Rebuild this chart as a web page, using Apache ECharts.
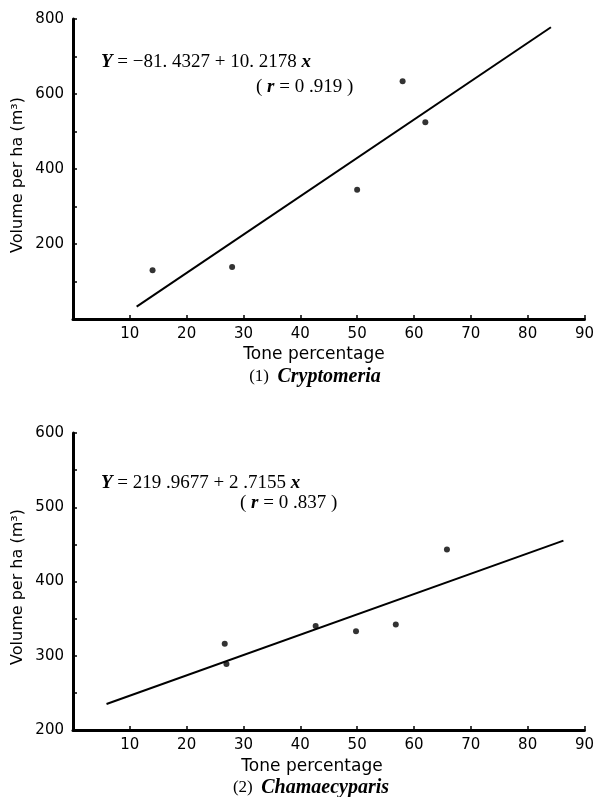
<!DOCTYPE html>
<html>
<head>
<meta charset="utf-8">
<script src="https://cdn.jsdelivr.net/npm/echarts@6/dist/echarts.min.js"></script>
<style>
  html, body { margin: 0; padding: 0; background: #fff; }
  #main { width: 597px; height: 797px; }
</style>
</head>
<body>
<div id="main"></div>
<script>
// (1) Cryptomeria: tone percentage vs volume per ha
const toneCrypto = [14, 28, 50, 58, 62]
const volCrypto = [130, 139, 345, 634, 525]
// fitted line end points
const fitCryptoX = [11.2, 84.1]
const fitCryptoY = [33, 778]

// (2) Chamaecyparis
const toneChamae = [26.7, 27, 42.7, 49.8, 56.8, 65.8]
const volChamae = [316, 289, 340, 333, 342, 443]
const fitChamaeX = [5.9, 86.3]
const fitChamaeY = [235, 455]

const xTicks = [10, 20, 30, 40, 50, 60, 70, 80, 90]

const pairs = (xs, ys) => xs.map((x, i) => [x, ys[i]])

const sans = 'DejaVu Sans'
const serif = 'Liberation Serif'

function xAxisOf (grid) {
  return {
    gridIndex: grid,
    type: 'value',
    min: 0,
    max: 90,
    interval: 10,
    axisLine: { onZero: false, lineStyle: { color: '#000', width: 3 } },
    axisTick: { inside: true, length: 4, lineStyle: { color: '#000', width: 1.5 } },
    axisLabel: {
      color: '#000',
      fontFamily: sans,
      fontSize: 15,
      margin: 8,
      formatter: v => (xTicks.indexOf(v) >= 0 ? String(v) : '')
    },
    splitLine: { show: false }
  }
}

function yAxisOf (grid, min, max, step, labelStep) {
  return {
    gridIndex: grid,
    type: 'value',
    min: min,
    max: max,
    interval: step,
    axisLine: { onZero: false, lineStyle: { color: '#000', width: 3 } },
    axisTick: { inside: true, length: 4, lineStyle: { color: '#000', width: 1.5 } },
    axisLabel: {
      color: '#000',
      fontFamily: sans,
      fontSize: 15,
      margin: 9,
      formatter: v => (v !== 0 && v % labelStep === 0 ? String(v) : '')
    },
    splitLine: { show: false }
  }
}

const eqRich = {
  Y: { fontFamily: serif, fontSize: 19, fontStyle: 'italic', fontWeight: 'bold', color: '#000' },
  n: { fontFamily: serif, fontSize: 19, color: '#000' },
  b: { fontFamily: serif, fontSize: 19, fontStyle: 'italic', fontWeight: 'bold', color: '#000' }
}
const capRich = {
  n: { fontFamily: serif, fontSize: 17, color: '#000' },
  b: { fontFamily: serif, fontSize: 20, fontStyle: 'italic', fontWeight: 'bold', color: '#000' }
}

function txt (x, y, text, font, rotation) {
  return {
    type: 'text',
    x: x,
    y: y,
    rotation: rotation || 0,
    style: {
      text: text,
      font: font,
      fill: '#000',
      textAlign: 'center',
      textVerticalAlign: 'middle'
    }
  }
}

function richTxt (x, y, text, rich, align) {
  return {
    type: 'text',
    x: x,
    y: y,
    style: {
      text: text,
      rich: rich,
      fill: '#000',
      textAlign: align || 'left',
      textVerticalAlign: 'middle'
    }
  }
}

const chart = echarts.init(document.getElementById('main'))
chart.setOption({
  animation: false,
  backgroundColor: '#fff',
  grid: [
    { left: 73, top: 19, width: 512, height: 300 },
    { left: 73, top: 433, width: 512, height: 297 }
  ],
  xAxis: [xAxisOf(0), xAxisOf(1)],
  yAxis: [
    yAxisOf(0, 0, 800, 100, 200),
    yAxisOf(1, 200, 600, 50, 100)
  ],
  series: [
    {
      type: 'line',
      xAxisIndex: 0,
      yAxisIndex: 0,
      data: pairs(fitCryptoX, fitCryptoY),
      symbol: 'none',
      lineStyle: { color: '#000', width: 2 }
    },
    {
      type: 'scatter',
      xAxisIndex: 0,
      yAxisIndex: 0,
      data: pairs(toneCrypto, volCrypto),
      symbolSize: 6,
      itemStyle: { color: '#000' }
    },
    {
      type: 'line',
      xAxisIndex: 1,
      yAxisIndex: 1,
      data: pairs(fitChamaeX, fitChamaeY),
      symbol: 'none',
      lineStyle: { color: '#000', width: 2 }
    },
    {
      type: 'scatter',
      xAxisIndex: 1,
      yAxisIndex: 1,
      data: pairs(toneChamae, volChamae),
      symbolSize: 6,
      itemStyle: { color: '#000' }
    }
  ],
  graphic: [
    txt(18, 175, 'Volume per ha (m³)', '16px "DejaVu Sans"', Math.PI / 2),
    txt(18, 587, 'Volume per ha (m³)', '16px "DejaVu Sans"', Math.PI / 2),
    txt(314, 355, 'Tone percentage', '17px "DejaVu Sans"'),
    txt(312, 767, 'Tone percentage', '17px "DejaVu Sans"'),
    richTxt(315, 377, '{n|(1)  }{b|Cryptomeria}', capRich, 'center'),
    richTxt(311, 788, '{n|(2)  }{b|Chamaecyparis}', capRich, 'center'),
    richTxt(101, 62, '{Y|Y}{n| = −81. 4327 + 10. 2178 }{b|x}', eqRich),
    richTxt(256, 87, '{n|( }{b|r}{n| = 0 .919 )}', eqRich),
    richTxt(101, 483, '{Y|Y}{n| = 219 .9677 + 2 .7155 }{b|x}', eqRich),
    richTxt(240, 503, '{n|( }{b|r}{n| = 0 .837 )}', eqRich)
  ]
})
</script>
</body>
</html>
